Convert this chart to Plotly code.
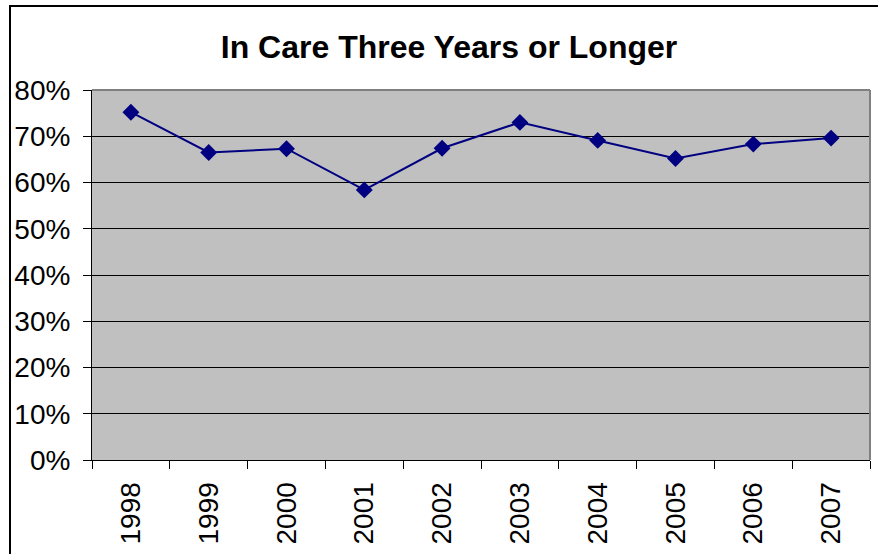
import plotly.graph_objects as go

years = ["1998", "1999", "2000", "2001", "2002", "2003", "2004", "2005", "2006", "2007"]
pct_in_care = [0.752, 0.665, 0.673, 0.584, 0.674, 0.730, 0.691, 0.652, 0.683, 0.696]
y_ticks = [0, 0.1, 0.2, 0.3, 0.4, 0.5, 0.6, 0.7, 0.8]
title_text = "In Care Three Years or Longer"

FONT = "Arial, Liberation Sans, sans-serif"

fig = go.Figure()
fig.add_trace(go.Scatter(
    x=years, y=pct_in_care, mode="lines+markers",
    line=dict(color="#000080", width=2),
    marker=dict(symbol="diamond", size=13, color="#000080"),
    hoverinfo="skip", showlegend=False,
))

W, H = 878, 554
L, R, T, B = 92, 8, 90, 93.5
pw, ph = W - L - R, H - T - B

fig.update_layout(
    width=W, height=H,
    margin=dict(l=L, r=R, t=T, b=B, pad=0),
    paper_bgcolor="white", plot_bgcolor="#C0C0C0",
    font=dict(family=FONT, color="black"),
    title=dict(text="<b>" + title_text + "</b>", font=dict(size=32, family=FONT, color="black"),
               x=449 / W, xanchor="center", xref="container",
               y=1 - 47 / H, yanchor="middle", yref="container"),
    xaxis=dict(type="category", range=[-0.5, len(years) - 0.5],
               tickson="boundaries", ticks="outside", ticklen=8,
               tickcolor="black", tickwidth=1, tickangle=-90,
               tickfont=dict(size=28, family=FONT, color="black"),
               showgrid=False, showline=True, linecolor="black", linewidth=1,
               zeroline=False, ticklabelstandoff=10, fixedrange=True),
    yaxis=dict(range=[0, 0.8], tickvals=y_ticks, tickformat=".0%",
               ticks="outside", ticklen=8, tickcolor="black", tickwidth=1,
               tickfont=dict(size=28, family=FONT, color="black"),
               showgrid=True, gridcolor="black", gridwidth=1,
               showline=True, linecolor="black", linewidth=1,
               zeroline=False, ticklabelstandoff=7, fixedrange=True),
    shapes=[
        # plot-area gray border on top and right
        dict(type="line", xref="paper", yref="paper", x0=0, x1=1, y0=1, y1=1,
             line=dict(color="#808080", width=2), layer="above"),
        dict(type="line", xref="paper", yref="paper", x0=1, x1=1, y0=0, y1=1,
             line=dict(color="#808080", width=2), layer="above"),
        # outer chart border
        dict(type="rect", xref="paper", yref="paper",
             x0=(10 - L) / pw, x1=1.2, y0=-0.5, y1=1 + (T - 6) / ph,
             line=dict(color="black", width=2), fillcolor="rgba(0,0,0,0)", layer="below"),
    ],
)

fig.write_html("out.html", config={"displayModeBar": False},
               post_script="document.body.style.margin='0';document.body.style.overflow='hidden';")
